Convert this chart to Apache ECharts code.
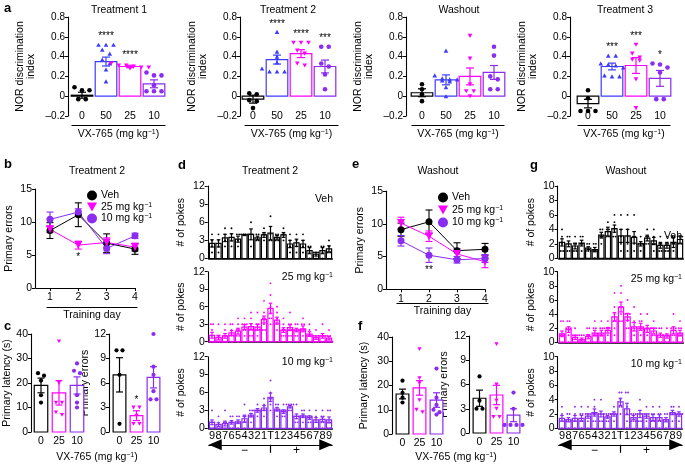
<!DOCTYPE html>
<html><head><meta charset="utf-8">
<script src="https://cdn.jsdelivr.net/npm/echarts@6/dist/echarts.min.js"></script>
<style>html,body{margin:0;padding:0;background:#fff}#c{width:685px;height:466px}</style>
</head><body><div id="c"></div>
<script>
// ---------------- DATA ----------------
const doseLabels = ['0', '50', '25', '10'];
const aTitles = ['Treatment 1', 'Treatment 2', 'Washout', 'Treatment 3'];
const t1Means = [0.01, 0.35, 0.30, 0.125];
const t1Sems = [0.03, 0.045, 0.012, 0.04];
const t1Pts = [[0.09, 0.06, 0.06, -0.03, -0.03], [0.52, 0.52, 0.52, 0.47, 0.43, 0.37, 0.33, 0.27, 0.15], [0.33, 0.31, 0.31, 0.30, 0.29, 0.29, 0.28], [0.24, 0.21, 0.21, 0.11, 0.05, 0.05, 0.05]];
const t1Stars = ['', '****', '****', ''];
const t2Means = [-0.03, 0.37, 0.43, 0.30];
const t2Sems = [0.04, 0.045, 0.04, 0.065];
const t2Pts = [[0.03, 0.02, -0.04, -0.05, -0.12], [0.65, 0.45, 0.40, 0.34, 0.28, 0.25, 0.25, 0.25, 0.25], [0.54, 0.54, 0.54, 0.46, 0.43, 0.33, 0.31], [0.50, 0.50, 0.33, 0.30, 0.22, 0.07]];
const t2Stars = ['', '****', '****', '***'];
const woMeans = [0.035, 0.165, 0.20, 0.24];
const woSems = [0.04, 0.05, 0.085, 0.07];
const woPts = [[0.12, 0.07, 0.02, -0.05], [0.46, 0.21, 0.18, 0.17, 0.17, 0.16, 0.15, 0.09, 0.0], [0.61, 0.38, 0.12, 0.05, 0.05, 0.0], [0.50, 0.41, 0.20, 0.17, 0.07, 0.07]];
const woStars = ['', '', '', ''];
const t3Means = [-0.075, 0.30, 0.31, 0.18];
const t3Sems = [0.043, 0.034, 0.08, 0.08];
const t3Pts = [[0.06, -0.02, -0.15, -0.15, -0.15], [0.41, 0.41, 0.33, 0.32, 0.31, 0.29, 0.21, 0.20, 0.20], [0.52, 0.43, 0.39, 0.37, 0.36, 0.17, -0.12], [0.33, 0.32, 0.29, 0.24, -0.03, -0.03]];
const t3Stars = ['', '***', '***', '*'];

const days = [1, 2, 3, 4];
const bVeh = [8.7, 11.1, 6.8, 5.9], bVehSem = [1.2, 1.8, 1.4, 0.8];
const b25 = [8.9, 6.5, 6.9, 6.2], b25Sem = [0.5, 0.6, 0.7, 0.6];
const b10 = [10.4, 11.5, 6.0, 7.9], b10Sem = [1.1, 0.5, 0.8, 0.4];
const bStars25 = ['', '*', '', ''];
const eVeh = [9.1, 10.3, 5.9, 6.1], eVehSem = [1.0, 1.8, 1.2, 0.9];
const e25 = [10.1, 8.1, 5.4, 4.2], e25Sem = [0.9, 0.8, 0.8, 0.9];
const e10 = [7.4, 5.2, 4.5, 4.7], e10Sem = [0.8, 1.1, 0.5, 0.6];
const eStars10 = ['', '**', '', ''];

const cDoses = ['0', '25', '10'];
const cLatMeans = [19, 16, 19], cLatSems = [3, 5, 3.5];
const cLatPts = [[24, 23, 21, 15, 12], [37, 20, 12, 8, 7, 12], [28, 25, 24, 15, 12, 10]];
const cErrMeans = [7.0, 2.0, 6.7], cErrSems = [2.1, 0.6, 1.3];
const cErrPts = [[10, 10, 7, 1], [3, 3, 2, 1, 1], [12, 8, 7, 5, 4, 4]];
const cErrStars = ['', '*', ''];
const fLatMeans = [16.5, 19, 14], fLatSems = [2, 3, 3];
const fLatPts = [[22, 17, 15, 13], [35, 23, 21, 14, 10, 9], [27, 15, 12, 10, 9, 8]];
const fErrMeans = [4.3, 4.7, 2.2], fErrSems = [1, 1.2, 0.8];
const fErrPts = [[7, 4, 3, 3], [11, 6, 4, 3, 2, 2], [5, 3, 1, 1, 1, 1]];

const pokeLabels = ['9','8','7','6','5','4','3','2','1','T','1','2','3','4','5','6','7','8','9'];
const dVehMeans = [2.5,2.5,3.4,3.5,3.2,3.9,4.0,3.4,3.9,4.2,3.5,3.9,2.4,2.6,2.4,1.3,0.7,1.3,1.6];
const dVehSems = [0.6,0.6,0.6,0.6,0.5,0.1,0.9,0.3,0.4,1.1,0.3,0.4,0.6,0.6,0.6,0.5,0.3,0.5,0.5];
const dVehPts = [[4,3,2,1],[4,3,2,1],[5,4,3,2],[5,4,3,2],[4,4,3,2],[4,4,4,4],[6,4,4,2],[4,4,3,3],[5,4,4,3],[7,4,3,3],[4,4,3,3],[5,4,4,3],[4,3,2,1],[4,3,2,1],[4,3,2,1],[2,2,1,0],[1,1,1,0],[2,2,1,0],[3,2,1,1]];
const d25Means = [1.1,0.7,1.0,1.5,1.8,2.5,2.6,2.5,3.8,5.7,3.7,2.0,2.4,2.0,2.2,1.3,0.7,1.0,0.6];
const d25Sems = [0.5,0.4,0.4,0.4,0.5,0.4,0.5,0.5,0.6,0.9,0.5,0.4,0.5,0.3,0.5,0.4,0.3,0.4,0.3];
const d25Pts = [[3,3,2,1,0,0,0],[3,1,1,0,0,0,0],[3,2,1,1,0,0,0],[3,3,2,1,1,1,0],[4,3,2,2,1,1,0],[4,3,3,3,2,2,1],[5,4,3,2,2,1,1],[5,3,3,2,2,2,1],[7,5,4,4,3,2,2],[10,8,6,5,4,4,3],[6,5,4,3,3,3,2],[4,3,2,2,1,1,1],[5,3,3,2,2,1,1],[3,3,2,2,2,1,1],[4,3,3,2,2,1,0],[3,2,1,1,1,1,0],[2,1,1,1,0,0,0],[3,1,1,1,1,0,0],[2,1,1,0,0,0,0]];
const d10Means = [1.0,0.6,0.8,1.0,1.1,1.6,2.2,3.0,3.4,5.2,3.2,2.8,3.6,2.0,2.1,1.8,1.4,1.5,1.4];
const d10Sems = [0.4,0.3,0.4,0.3,0.3,0.6,0.3,0.3,0.4,0.7,0.3,0.3,0.2,0.4,0.3,0.3,0.4,0.4,0.5];
const d10Pts = [[3,1,1,1,0,0],[2,1,0,0,0,0],[3,1,1,0,0,0],[2,2,1,1,0,0],[2,2,1,1,1,0],[4,2,2,1,1,0],[3,3,2,2,2,1],[4,3,3,3,3,2],[5,4,3,3,3,2],[8,6,5,5,4,3],[4,4,3,3,3,2],[4,3,3,3,2,2],[4,4,4,4,3,3],[4,2,2,2,1,1],[3,3,2,2,2,1],[3,2,2,2,1,1],[3,2,1,1,1,0],[3,2,2,1,1,0],[3,3,1,1,0,0]];
const gVehMeans = [2.2,2.0,1.7,2.1,1.4,1.2,3.2,3.7,4.1,3.1,3.1,2.9,2.0,2.8,2.4,1.8,1.8,2.2,2.6];
const gVehSems = [0.5,0.4,0.4,0.4,0.2,0.3,0.4,0.6,0.5,0.9,0.9,0.8,0.3,0.4,0.5,0.4,0.4,0.7,0.5];
const gVehPts = [[4,3,2,1,1],[3,3,2,1,1],[3,2,2,1,1],[3,3,2,2,1],[2,2,1,1,1],[2,2,1,1,0],[4,4,3,3,2],[5,4,4,3,3],[6,5,4,3,3],[6,4,3,2,1],[6,4,3,2,1],[6,3,3,2,1],[3,2,2,2,1],[4,3,3,2,2],[4,3,2,2,1],[3,2,2,1,1],[3,2,2,1,1],[3,3,2,2,1],[3,3,3,2,2]];
const g25Means = [1.2,1.8,0.7,0.4,0.8,1.3,1.3,1.7,3.6,5.0,3.6,2.2,2.2,1.9,1.6,1.0,0.9,1.7,1.3];
const g25Sems = [0.4,0.4,0.3,0.2,0.3,0.4,0.4,0.4,0.6,0.7,0.5,0.6,0.5,0.5,0.4,0.3,0.3,0.5,0.4];
const g25Pts = [[3,3,1,1,0,0,0],[3,3,2,2,2,1,0],[2,1,1,1,0,0,0],[1,1,1,0,0,0,0],[2,2,1,1,0,0,0],[3,2,2,1,1,0,0],[3,2,2,1,1,0,0],[3,2,2,2,2,1,0],[7,5,4,3,3,2,1],[8,7,5,5,4,3,3],[6,4,4,4,3,2,2],[5,3,2,2,2,1,0],[4,3,3,2,2,1,0],[4,2,2,2,2,1,0],[3,2,2,2,1,1,0],[2,2,1,1,1,0,0],[2,1,1,1,1,0,0],[4,2,2,2,1,1,0],[3,2,2,1,1,0,0]];
const g10Means = [1.4,1.2,1.4,1.4,1.7,2.2,2.0,1.6,2.0,3.7,2.7,1.5,2.0,1.7,1.5,1.5,1.2,2.2,2.0];
const g10Sems = [0.4,0.3,0.4,0.4,0.3,0.5,0.4,0.2,0.3,0.5,0.8,0.3,0.5,0.3,0.4,0.4,0.3,0.3,0.3];
const g10Pts = [[3,2,1,1,1,0],[2,2,1,1,1,0],[3,2,1,1,1,0],[3,2,2,1,1,0],[3,2,2,2,1,0],[4,3,2,2,1,1],[4,2,2,2,1,1],[2,2,2,2,1,1],[3,2,2,2,2,1],[5,5,4,3,3,2],[5,5,3,2,1,0],[2,2,2,1,1,1],[4,2,2,2,1,1],[3,2,2,2,1,0],[3,2,2,1,1,0],[3,2,2,1,1,0],[2,2,1,1,1,0],[3,3,2,2,2,1],[3,2,2,2,2,1]];

// ---------------- STYLE ----------------
const FONT = "'Liberation Sans', Arial, sans-serif";
const BLK = '#000000', BLUE = '#3c3cff', MAG = '#ff00ff', PUR = '#8a2cf2';
const RICH = { s: { fontSize: 7, fontFamily: FONT, verticalAlign: 'top', lineHeight: 8, fill: '#000' } };
const TRI_DOWN = 'path://M0,0L10,0L5,9Z';

function merge(a, b) {
  const o = Object.assign({}, a);
  for (const k in b) {
    if (b[k] && typeof b[k] === 'object' && !Array.isArray(b[k]) && a && a[k] && typeof a[k] === 'object' && !Array.isArray(a[k])) o[k] = merge(a[k], b[k]);
    else o[k] = b[k];
  }
  return o;
}
const AX = {
  axisLine: { show: true, onZero: false, lineStyle: { color: '#000', width: 1.1 } },
  axisTick: { show: true, length: 3, lineStyle: { color: '#000', width: 1 } },
  axisLabel: { color: '#000', fontSize: 10, fontFamily: FONT, margin: 3 },
  splitLine: { show: false },
  nameTextStyle: { color: '#000', fontSize: 10, fontFamily: FONT, rich: RICH }
};

const grid = [], xAxis = [], yAxis = [], series = [], graphic = [];
const addGrid = g => (grid.push(g), grid.length - 1);
const addX = a => (xAxis.push(a), xAxis.length - 1);
const addY = a => (yAxis.push(a), yAxis.length - 1);

function txt(x, y, t, size, opt) {
  opt = opt || {};
  graphic.push({ type: 'text', x, y, silent: true, z: 10,
    style: { text: t, fill: '#000', font: (opt.bold ? 'bold ' : '') + size + 'px ' + FONT,
      align: opt.align || 'center', verticalAlign: 'middle', rich: RICH } });
}

function marker(shape, x, y, s, color) {
  if (shape === 'circle') return { type: 'circle', shape: { cx: x, cy: y, r: s / 2 }, style: { fill: color } };
  const h = s * 0.9, w = s;
  if (shape === 'tri') return { type: 'polygon', shape: { points: [[x, y - h / 2], [x + w / 2, y + h / 2], [x - w / 2, y + h / 2]] }, style: { fill: color } };
  return { type: 'polygon', shape: { points: [[x - w / 2, y - h / 2], [x + w / 2, y - h / 2], [x, y + h / 2]] }, style: { fill: color } };
}

function swarm(ys, minDy, spacing) {
  const idx = ys.map((y, i) => i).sort((a, b) => ys[a] - ys[b]);
  const offs = new Array(ys.length).fill(0);
  let k = 0;
  while (k < idx.length) {
    let j = k;
    while (j + 1 < idx.length && ys[idx[j + 1]] - ys[idx[k]] < minDy) j++;
    const n = j - k + 1;
    for (let m = k; m <= j; m++) offs[idx[m]] = (m - k - (n - 1) / 2) * spacing;
    k = j + 1;
  }
  return offs;
}

function barSeries(xi, yi, cfg) {
  return {
    type: 'custom', xAxisIndex: xi, yAxisIndex: yi, clip: false, silent: true,
    data: cfg.means.map((m, i) => [i, m, cfg.sems[i]]),
    encode: { x: 0, y: 1 },
    renderItem: (p, api) => {
      const i = api.value(0), m = api.value(1), s = api.value(2);
      const col = cfg.colors[i];
      const band = api.size([1, 0])[0];
      const c = api.coord([i, m]); const y0 = api.coord([i, 0])[1];
      const cx = c[0], cy = c[1];
      const bw = band * cfg.frac;
      const ch = [];
      const st = { stroke: col, lineWidth: cfg.lw };
      ch.push({ type: 'rect', shape: { x: cx - bw / 2, y: Math.min(cy, y0), width: bw, height: Math.abs(y0 - cy) }, style: { fill: '#fff', stroke: col, lineWidth: cfg.lw } });
      const yh = api.coord([i, m + s])[1], yl = api.coord([i, m - s])[1];
      ch.push({ type: 'line', shape: { x1: cx, y1: yh, x2: cx, y2: yl }, style: st });
      ch.push({ type: 'line', shape: { x1: cx - cfg.cap, y1: yh, x2: cx + cfg.cap, y2: yh }, style: st });
      ch.push({ type: 'line', shape: { x1: cx - cfg.cap, y1: yl, x2: cx + cfg.cap, y2: yl }, style: st });
      const pts = cfg.pts[i];
      const ys = pts.map(v => api.coord([i, v])[1]);
      const offs = swarm(ys, cfg.minDy, cfg.spacing);
      pts.forEach((v, k) => ch.push(marker(cfg.shapes[i], cx + offs[k], ys[k], cfg.ptSize, col)));
      if (cfg.stars && cfg.stars[i]) {
        const top = Math.min(yh, ...ys);
        ch.push({ type: 'text', x: cx, y: top - cfg.starGap, style: { text: cfg.stars[i], fill: '#000', font: cfg.starFont + 'px ' + FONT, align: 'center', verticalAlign: 'bottom' } });
      }
      return { type: 'group', children: ch };
    }
  };
}

function underline(left, width, top, name, gap) {
  const gi = addGrid({ left, top, width, height: 1 });
  addX(merge(AX, { type: 'value', gridIndex: gi, position: 'bottom', min: 0, max: 1, axisLine: { lineStyle: { width: 1.2 } }, axisTick: { show: false }, axisLabel: { show: false }, name, nameLocation: 'middle', nameGap: gap, nameTextStyle: { fontSize: 10.5 } }));
  addY({ type: 'value', gridIndex: gi, show: false });
}

const fmtA = v => Math.abs(v) < 1e-9 ? '0' : (v < 0 ? '–' + (-v).toFixed(1) : v.toFixed(1));
const aCols = [BLK, BLUE, MAG, PUR], aShapes = ['circle', 'tri', 'tridown', 'circle'];

// ---------------- PANEL a ----------------
const aPanels = [
  { axisX: 68, left: 70, means: t1Means, sems: t1Sems, pts: t1Pts, stars: t1Stars, tx: 119, ul: [72, 93] },
  { axisX: 240, left: 241, means: t2Means, sems: t2Sems, pts: t2Pts, stars: t2Stars, tx: 288, ul: [245, 93] },
  { axisX: 406, left: 410, means: woMeans, sems: woSems, pts: woPts, stars: woStars, tx: 459, ul: [412, 92] },
  { axisX: 570, left: 576, means: t3Means, sems: t3Sems, pts: t3Pts, stars: t3Stars, tx: 625, ul: [578, 92] }
];
aPanels.forEach((p, k) => {
  const gi = addGrid({ left: p.left, top: 17, width: 96, height: 99 });
  const xi = addX(merge(AX, { type: 'category', gridIndex: gi, position: 'bottom', data: doseLabels, axisLine: { show: false }, axisTick: { show: false }, axisLabel: { margin: -5, interval: 0, fontSize: 10.5 } }));
  const yi = addY(merge(AX, { type: 'value', gridIndex: gi, min: -0.2, max: 0.8, interval: 0.2, offset: p.left - p.axisX,
    axisLabel: { formatter: fmtA }, name: 'NOR discrimination\nindex', nameLocation: 'middle', nameGap: 31, nameRotate: 90, nameTextStyle: { fontSize: 10.5, lineHeight: 11 } }));
  series.push(barSeries(xi, yi, { means: p.means, sems: p.sems, pts: p.pts, stars: p.stars, colors: aCols, shapes: aShapes,
    frac: 0.9, lw: 1.2, cap: 4, ptSize: 4.6, spacing: 7.5, minDy: 4, starGap: 3, starFont: 10 }));
  underline(p.ul[0], p.ul[1], 124, 'VX-765 (mg kg{s|−1})', 4);
  txt(p.tx, 10, aTitles[k], 10.5);
});
txt(4, 8, 'a', 13, { bold: true, align: 'left' });

// ---------------- PANELS b, e ----------------
function linePanel(g, axisX, title, tx, vals, legendPos, starsArr, starIdx, ul) {
  const gi = addGrid(g);
  const xi = addX(merge(AX, { type: 'value', gridIndex: gi, position: 'bottom', min: 0.5, max: 4,
    axisTick: { customValues: days, length: 3 }, axisLabel: { customValues: days, fontSize: 10.5, margin: 4 } }));
  const yi = addY(merge(AX, { type: 'value', gridIndex: gi, min: 0, max: 15, interval: 5, offset: g.left - axisX,
    axisLabel: { fontSize: 10.5 }, name: 'Primary errors', nameLocation: 'middle', nameGap: 20, nameRotate: 90, nameTextStyle: { fontSize: 10.5 } }));
  const specs = [
    { name: 'Veh', ys: vals[0], err: vals[1], col: BLK, sym: 'circle', size: 7 },
    { name: '25', ys: vals[2], err: vals[3], col: MAG, sym: TRI_DOWN, size: 8 },
    { name: '10', ys: vals[4], err: vals[5], col: PUR, sym: 'circle', size: 7 }
  ];
  specs.forEach((s, si) => {
    series.push({ type: 'custom', xAxisIndex: xi, yAxisIndex: yi, silent: true, clip: false,
      data: days.map((d, i) => [d, s.ys[i], s.err[i]]), encode: { x: 0, y: 1 },
      renderItem: (p, api) => {
        const d = api.value(0), m = api.value(1), e = api.value(2);
        const hi = api.coord([d, m + e]), lo = api.coord([d, m - e]);
        const st = { stroke: s.col, lineWidth: 1.1 };
        const ch = [
          { type: 'line', shape: { x1: hi[0], y1: hi[1], x2: lo[0], y2: lo[1] }, style: st },
          { type: 'line', shape: { x1: hi[0] - 3.5, y1: hi[1], x2: hi[0] + 3.5, y2: hi[1] }, style: st },
          { type: 'line', shape: { x1: lo[0] - 3.5, y1: lo[1], x2: lo[0] + 3.5, y2: lo[1] }, style: st }
        ];
        if (si === starIdx && starsArr[p.dataIndex]) ch.push({ type: 'text', x: lo[0], y: lo[1] + 3, style: { text: starsArr[p.dataIndex], fill: '#000', font: '10px ' + FONT, align: 'center', verticalAlign: 'top' } });
        return { type: 'group', children: ch };
      } });
  });
  specs.forEach(s => {
    series.push({ type: 'line', name: s.name, xAxisIndex: xi, yAxisIndex: yi, data: days.map((d, i) => [d, s.ys[i]]),
      symbol: s.sym, symbolSize: s.size, itemStyle: { color: s.col }, lineStyle: { color: s.col, width: 1 }, z: 3, silent: true });
  });
  underline(ul[0], ul[1], ul[2], 'Training day', 3);
  txt(tx, 171, title, 10.5);
  return { left: legendPos[0], top: legendPos[1], orient: 'vertical', itemGap: legendPos[2], itemWidth: 10, itemHeight: 10, selectedMode: false,
    data: [{ name: 'Veh', icon: 'circle' }, { name: '25', icon: TRI_DOWN }, { name: '10', icon: 'circle' }],
    formatter: n => n === 'Veh' ? 'Veh' : n + ' mg kg{s|−1}',
    textStyle: { fontSize: 10.5, fontFamily: FONT, color: '#000', padding: [0, 0, 0, -1], rich: RICH } };
}
const legends = [];
legends.push(linePanel({ left: 35.8, top: 189, width: 99.2, height: 99 }, 35, 'Treatment 2', 97, [bVeh, bVehSem, b25, b25Sem, b10, b10Sem], [82, 185, 0.5], bStars25, 1, [47, 90, 306]));
legends.push(linePanel({ left: 387, top: 191, width: 98, height: 98.3 }, 386, 'Washout', 438, [eVeh, eVehSem, e25, e25Sem, e10, e10Sem], [433, 187, 1.5], eStars10, 2, [397, 91, 302]));
txt(4, 164, 'b', 13, { bold: true, align: 'left' });
txt(352, 164, 'e', 13, { bold: true, align: 'left' });

// ---------------- PANELS c, f ----------------
const cCols = [BLK, MAG, PUR], cShapes = ['circle', 'tridown', 'circle'];
function smallBar(g, axisX, max, interval, name, gap, means, sems, pts, stars) {
  const gi = addGrid(g);
  const xi = addX(merge(AX, { type: 'category', gridIndex: gi, position: 'bottom', data: cDoses, axisLine: { show: false }, axisTick: { show: false }, axisLabel: { interval: 0, fontSize: 10.5, margin: 4 } }));
  const yi = addY(merge(AX, { type: 'value', gridIndex: gi, min: 0, max, interval, offset: g.left - axisX,
    axisLabel: { fontSize: 10.5 }, name, nameLocation: 'middle', nameGap: gap, nameRotate: 90, nameTextStyle: { fontSize: 10.5 } }));
  series.push(barSeries(xi, yi, { means, sems, pts, stars, colors: cCols, shapes: cShapes, frac: 0.75, lw: 1.2, cap: 3.5, ptSize: 4.2, spacing: 6, minDy: 4, starGap: 2, starFont: 10 }));
}
smallBar({ left: 32, top: 334, width: 54, height: 98 }, 31, 40, 10, 'Primary latency (s)', 17, cLatMeans, cLatSems, cLatPts, null);
smallBar({ left: 111, top: 334, width: 51, height: 98 }, 109, 12, 3, 'Primary errors', 17, cErrMeans, cErrSems, cErrPts, cErrStars);
smallBar({ left: 394, top: 337, width: 51, height: 97 }, 392, 40, 10, 'Primary latency (s)', 22, fLatMeans, fLatSems, fLatPts, null);
smallBar({ left: 471, top: 336, width: 51, height: 97 }, 469, 12, 3, 'Primary errors', 19, fErrMeans, fErrSems, fErrPts, null);
txt(97, 457, 'VX-765 (mg kg{s|−1})', 10.5);
txt(456, 457, 'VX-765 (mg kg{s|−1})', 10.5);
txt(4, 326, 'c', 13, { bold: true, align: 'left' });
txt(358, 326, 'f', 13, { bold: true, align: 'left' });

// ---------------- PANELS d, g ----------------
function pokePanel(left, width, rows, max, interval, title, tx, lblX, arrowOff) {
  rows.forEach((r, ri) => {
    const gi = addGrid({ left, top: r.top, width, height: r.h });
    const last = ri === rows.length - 1;
    const xi = addX(merge(AX, { type: 'category', gridIndex: gi, position: 'bottom', data: pokeLabels.map((l, i) => 'c' + i), axisLine: { lineStyle: { width: 1.6 } }, axisTick: { show: false },
      axisLabel: { show: last, interval: 0, fontSize: 11, margin: 2, formatter: (v, i) => pokeLabels[i] } }));
    const yi = addY(merge(AX, { type: 'value', gridIndex: gi, min: 0, max, interval, offset: 1, axisLabel: { fontSize: 10.5 },
      name: '# of pokes', nameLocation: 'middle', nameGap: 21, nameRotate: 90, nameTextStyle: { fontSize: 10.5 } }));
    series.push(barSeries(xi, yi, { means: r.means, sems: r.sems, pts: r.pts, stars: null, colors: pokeLabels.map(() => r.col), shapes: pokeLabels.map(() => 'circle'),
      frac: 0.8, lw: 1.2, cap: 1.8, ptSize: 1.9, spacing: 2.3, minDy: 1, starGap: 0, starFont: 8 }));
    txt(lblX, r.ly, r.label, 10.5, { align: 'right' });
    if (last) {
      addX(merge(AX, { type: 'category', gridIndex: gi, position: 'bottom', data: pokeLabels.map((l, i) => 'c' + i), offset: arrowOff,
        axisLine: { lineStyle: { width: 1.2 }, symbol: ['triangle', 'triangle'], symbolSize: [11, 13], symbolOffset: [6.5, -6.5] },
        axisTick: { show: true, interval: (i) => i === 9, alignWithLabel: true, length: 8, lineStyle: { width: 1.2 } },
        axisLabel: { show: true, interval: 0, fontSize: 12, margin: 0, formatter: (v, i) => i === 5 ? '−' : (i === 13 ? '+' : '') } }));
    }
  });
  txt(tx, 171, title, 10.5);
}
pokePanel(208.75, 123.5, [
  { top: 186, h: 72.5, means: dVehMeans, sems: dVehSems, pts: dVehPts, col: BLK, label: 'Veh', ly: 199 },
  { top: 271.7, h: 70, means: d25Means, sems: d25Sems, pts: d25Pts, col: MAG, label: '25 mg kg{s|−1}', ly: 277 },
  { top: 356.7, h: 71.6, means: d10Means, sems: d10Sems, pts: d10Pts, col: PUR, label: '10 mg kg{s|−1}', ly: 362 }
], 12, 3, 'Treatment 2', 270, 333, 16.5);
pokePanel(558.7, 124.6, [
  { top: 186, h: 72.3, means: gVehMeans, sems: gVehSems, pts: gVehPts, col: BLK, label: 'Veh', ly: 236 },
  { top: 271.7, h: 70.6, means: g25Means, sems: g25Sems, pts: g25Pts, col: MAG, label: '25 mg kg{s|−1}', ly: 279 },
  { top: 356.7, h: 71.6, means: g10Means, sems: g10Sems, pts: g10Pts, col: PUR, label: '10 mg kg{s|−1}', ly: 364 }
], 10, 2, 'Washout', 626, 682, 16.5);
txt(178, 165, 'd', 13, { bold: true, align: 'left' });
txt(530, 165, 'g', 13, { bold: true, align: 'left' });

// ---------------- RENDER ----------------
const chart = echarts.init(document.getElementById('c'), null, { renderer: 'canvas' });
chart.setOption({
  backgroundColor: '#fff', animation: false,
  textStyle: { fontFamily: FONT },
  grid, xAxis, yAxis, series, legend: legends, graphic: { elements: graphic }
});
</script></body></html>
